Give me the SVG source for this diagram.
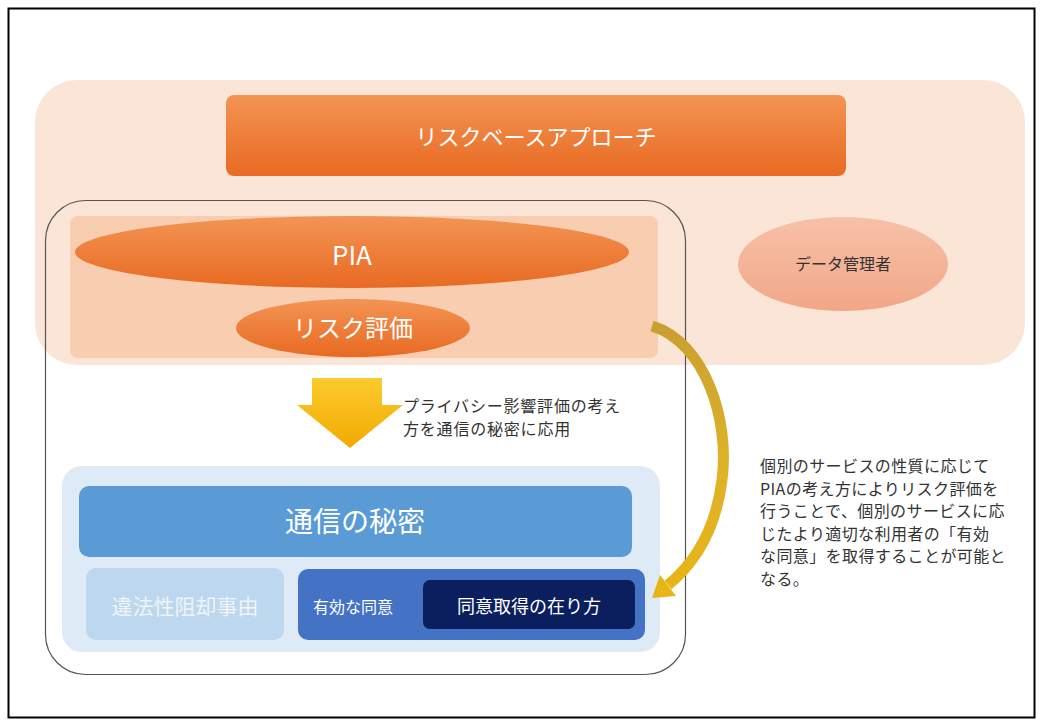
<svg xmlns="http://www.w3.org/2000/svg" width="1043" height="726" viewBox="0 0 1043 726">
<style>
text{font-family:"Noto Sans CJK JP","Noto Sans",sans-serif}
.w{fill:#ffffff}
.d{fill:#333333}
</style>
<defs>
<linearGradient id="og" x1="0" y1="0" x2="0" y2="1"><stop offset="0" stop-color="#F39454"/><stop offset="1" stop-color="#E86A22"/></linearGradient>
<linearGradient id="sg" x1="0" y1="0" x2="0" y2="1"><stop offset="0" stop-color="#F7C1A7"/><stop offset="1" stop-color="#F2A688"/></linearGradient>
<linearGradient id="yg" x1="0" y1="0" x2="0" y2="1"><stop offset="0" stop-color="#FCCB2E"/><stop offset="1" stop-color="#F2AA00"/></linearGradient>
<linearGradient id="cg" x1="0" y1="0" x2="0" y2="1"><stop offset="0" stop-color="#C9A030"/><stop offset="0.5" stop-color="#DDB12A"/><stop offset="1" stop-color="#E8B516"/></linearGradient>
</defs>
<rect x="8.5" y="8.5" width="1026" height="709" fill="#fff" stroke="#000" stroke-width="2"/>
<g id="bg-peach"><rect x="35" y="80" width="990" height="285" rx="42" fill="#FBE5D6"/></g>
<g id="node-approach"><rect x="226" y="95" width="620" height="81" rx="8" fill="url(#og)"/><text x="536" y="145" font-size="22" text-anchor="middle" class="w">リスクベースアプローチ</text></g>
<g id="frame"><rect x="45.5" y="200.5" width="640" height="474" rx="40" fill="none" stroke="#555" stroke-width="1.2"/></g>
<g id="inner-peach"><rect x="70" y="216" width="588" height="142" rx="8" fill="#F8CDB0"/></g>
<g id="node-pia"><ellipse cx="352" cy="252" rx="277" ry="36" fill="url(#og)"/><text x="352" y="265" font-size="26" text-anchor="middle" class="w">PIA</text></g>
<g id="node-risk"><ellipse cx="353" cy="328" rx="117" ry="29" fill="url(#og)"/><text x="353" y="337" font-size="24" text-anchor="middle" class="w">リスク評価</text></g>
<g id="node-controller"><ellipse cx="843" cy="264" rx="105" ry="47" fill="url(#sg)"/><text x="843" y="270" font-size="16" text-anchor="middle" class="d">データ管理者</text></g>
<g id="down-arrow"><polygon points="312,378 382,378 382,405 403,405 350,448 297,405 312,405" fill="url(#yg)"/></g>
<g id="label-apply"><text x="403" y="412" font-size="16" letter-spacing="0.8" class="d">プライバシー影響評価の考え</text><text x="403" y="435" font-size="16" letter-spacing="0.8" class="d">方を通信の秘密に応用</text></g>
<g id="blue-container"><rect x="62" y="466" width="598" height="186" rx="20" fill="#DEEBF7"/></g>
<g id="node-secrecy"><rect x="79" y="486" width="553" height="71" rx="10" fill="#5B9BD5"/><text x="355" y="532" font-size="28" text-anchor="middle" class="w">通信の秘密</text></g>
<g id="node-illegal"><rect x="86" y="568" width="198" height="72" rx="10" fill="#BDD7EE"/><text x="185" y="614" font-size="21" text-anchor="middle" fill="#EEF4FA">違法性阻却事由</text></g>
<g id="node-consent"><rect x="298" y="569" width="347" height="71" rx="10" fill="#4472C4"/><text x="313" y="613" font-size="16" class="w">有効な同意</text></g>
<g id="node-howto"><rect x="423" y="580" width="212" height="49" rx="7" fill="#0B1F5E"/><text x="529" y="613" font-size="18" text-anchor="middle" class="w">同意取得の在り方</text></g>
<g id="connectors">
<path d="M652,326 C705,342 730,420 722,480 C716,528 696,562 668,585" fill="none" stroke="url(#cg)" stroke-width="11"/>
<polygon points="652,598 660,575 676,596" fill="#E8B516"/>
</g>
<g id="note" font-size="16" letter-spacing="0.4" class="d">
<text x="760" y="472" class="d">個別のサービスの性質に応じて</text>
<text x="760" y="494.5" class="d">PIAの考え方によりリスク評価を</text>
<text x="760" y="517" class="d">行うことで、個別のサービスに応</text>
<text x="760" y="539.5" class="d">じたより適切な利用者の「有効</text>
<text x="760" y="562" class="d">な同意」を取得することが可能と</text>
<text x="760" y="584.5" class="d">なる。</text>
</g>
</svg>
